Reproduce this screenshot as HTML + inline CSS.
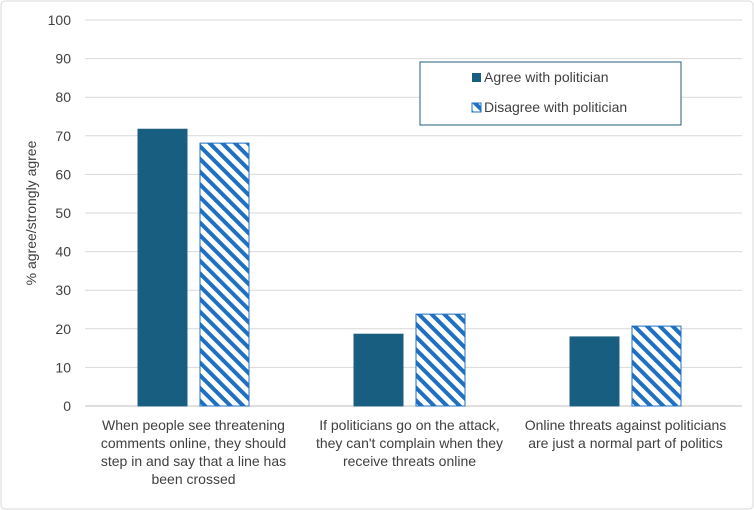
<!DOCTYPE html>
<html><head><meta charset="utf-8"><style>
body{margin:0;background:#fff}
svg{display:block;font-family:"Liberation Sans",sans-serif}
</style></head><body>
<svg id="chart" width="754" height="510" viewBox="0 0 754 510">
<defs>
<pattern id="hatch" patternUnits="userSpaceOnUse" width="9" height="9" patternTransform="rotate(-45)">
<rect width="9" height="9" fill="#fff"/>
<rect x="0" y="0" width="4" height="9" fill="#1f6fc2"/>
</pattern>
</defs>
<rect x="1" y="1" width="752" height="508" rx="4" fill="#fff" stroke="#d9d9d9"/>
<g id="grid"></g>
<g id="bars"></g>
<g id="xlabels"></g>
<text transform="translate(36,213) rotate(-90)" text-anchor="middle" font-size="14" fill="#404040">% agree/strongly agree</text>
<g>
<rect x="420" y="62" width="261" height="63" fill="#fff" stroke="#1f5f80" stroke-width="1"/>
<g>
<rect x="472" y="73" width="9" height="9" fill="#175e80"/>
<text x="484" y="82" font-size="14" fill="#404040">Agree with politician</text>
</g>
<g>
<rect x="472" y="103" width="9" height="9" fill="url(#hatch)" stroke="#1f6fc2" stroke-width="1"/>
<text x="484" y="112" font-size="14" fill="#404040">Disagree with politician</text>
</g>
</g>
</svg>
<script>
const categories=[["When people see threatening","comments online, they should","step in and say that a line has","been crossed"],["If politicians go on the attack,","they can't complain when they","receive threats online"],["Online threats against politicians","are just a normal part of politics"]];
const agreeValues=[71.7,18.6,17.9];
const disagreeValues=[68.1,23.8,20.7];
const yTicks=[0,10,20,30,40,50,60,70,80,90,100];
const NS="http://www.w3.org/2000/svg";
const L=85,R=742,T=20,B=406;
const y=v=>B-(v/100)*(B-T);
const bw=216;
const cx=i=>L+0.5+bw*(i+0.5);
function mk(tag,attrs,parent){const e=document.createElementNS(NS,tag);for(const k in attrs)e.setAttribute(k,attrs[k]);parent.appendChild(e);return e;}
const grid=document.getElementById('grid');
yTicks.forEach(t=>{
 const l=mk('line',{x1:L,x2:R,y1:y(t),y2:y(t),stroke:t===0?'#bfbfbf':'#d9d9d9','stroke-width':1},grid);
 
 
 const tx=mk('text',{x:71,y:y(t)+5,'text-anchor':'end','font-size':14,fill:'#404040'},grid);
 tx.textContent=t;
 
 
});
const bars=document.getElementById('bars');
const W=49,gap=13;
categories.forEach((c,i)=>{
 const a=mk('rect',{x:cx(i)-gap/2-W,y:y(agreeValues[i]),width:W,height:B-y(agreeValues[i]),fill:'#175e80',stroke:'#1f5f80'},bars);
 
 
 const d=mk('rect',{x:cx(i)+gap/2,y:y(disagreeValues[i]),width:W,height:B-y(disagreeValues[i]),fill:'url(#hatch)',stroke:'#1f6fc2'},bars);
 
 
 const tx=mk('text',{'text-anchor':'middle','font-size':14,fill:'#404040'},document.getElementById('xlabels'));
 
 
 c.forEach((line,j)=>{const s=mk('tspan',{x:cx(i),y:430+j*18},tx);s.textContent=line;});
});
</script>
</body></html>
